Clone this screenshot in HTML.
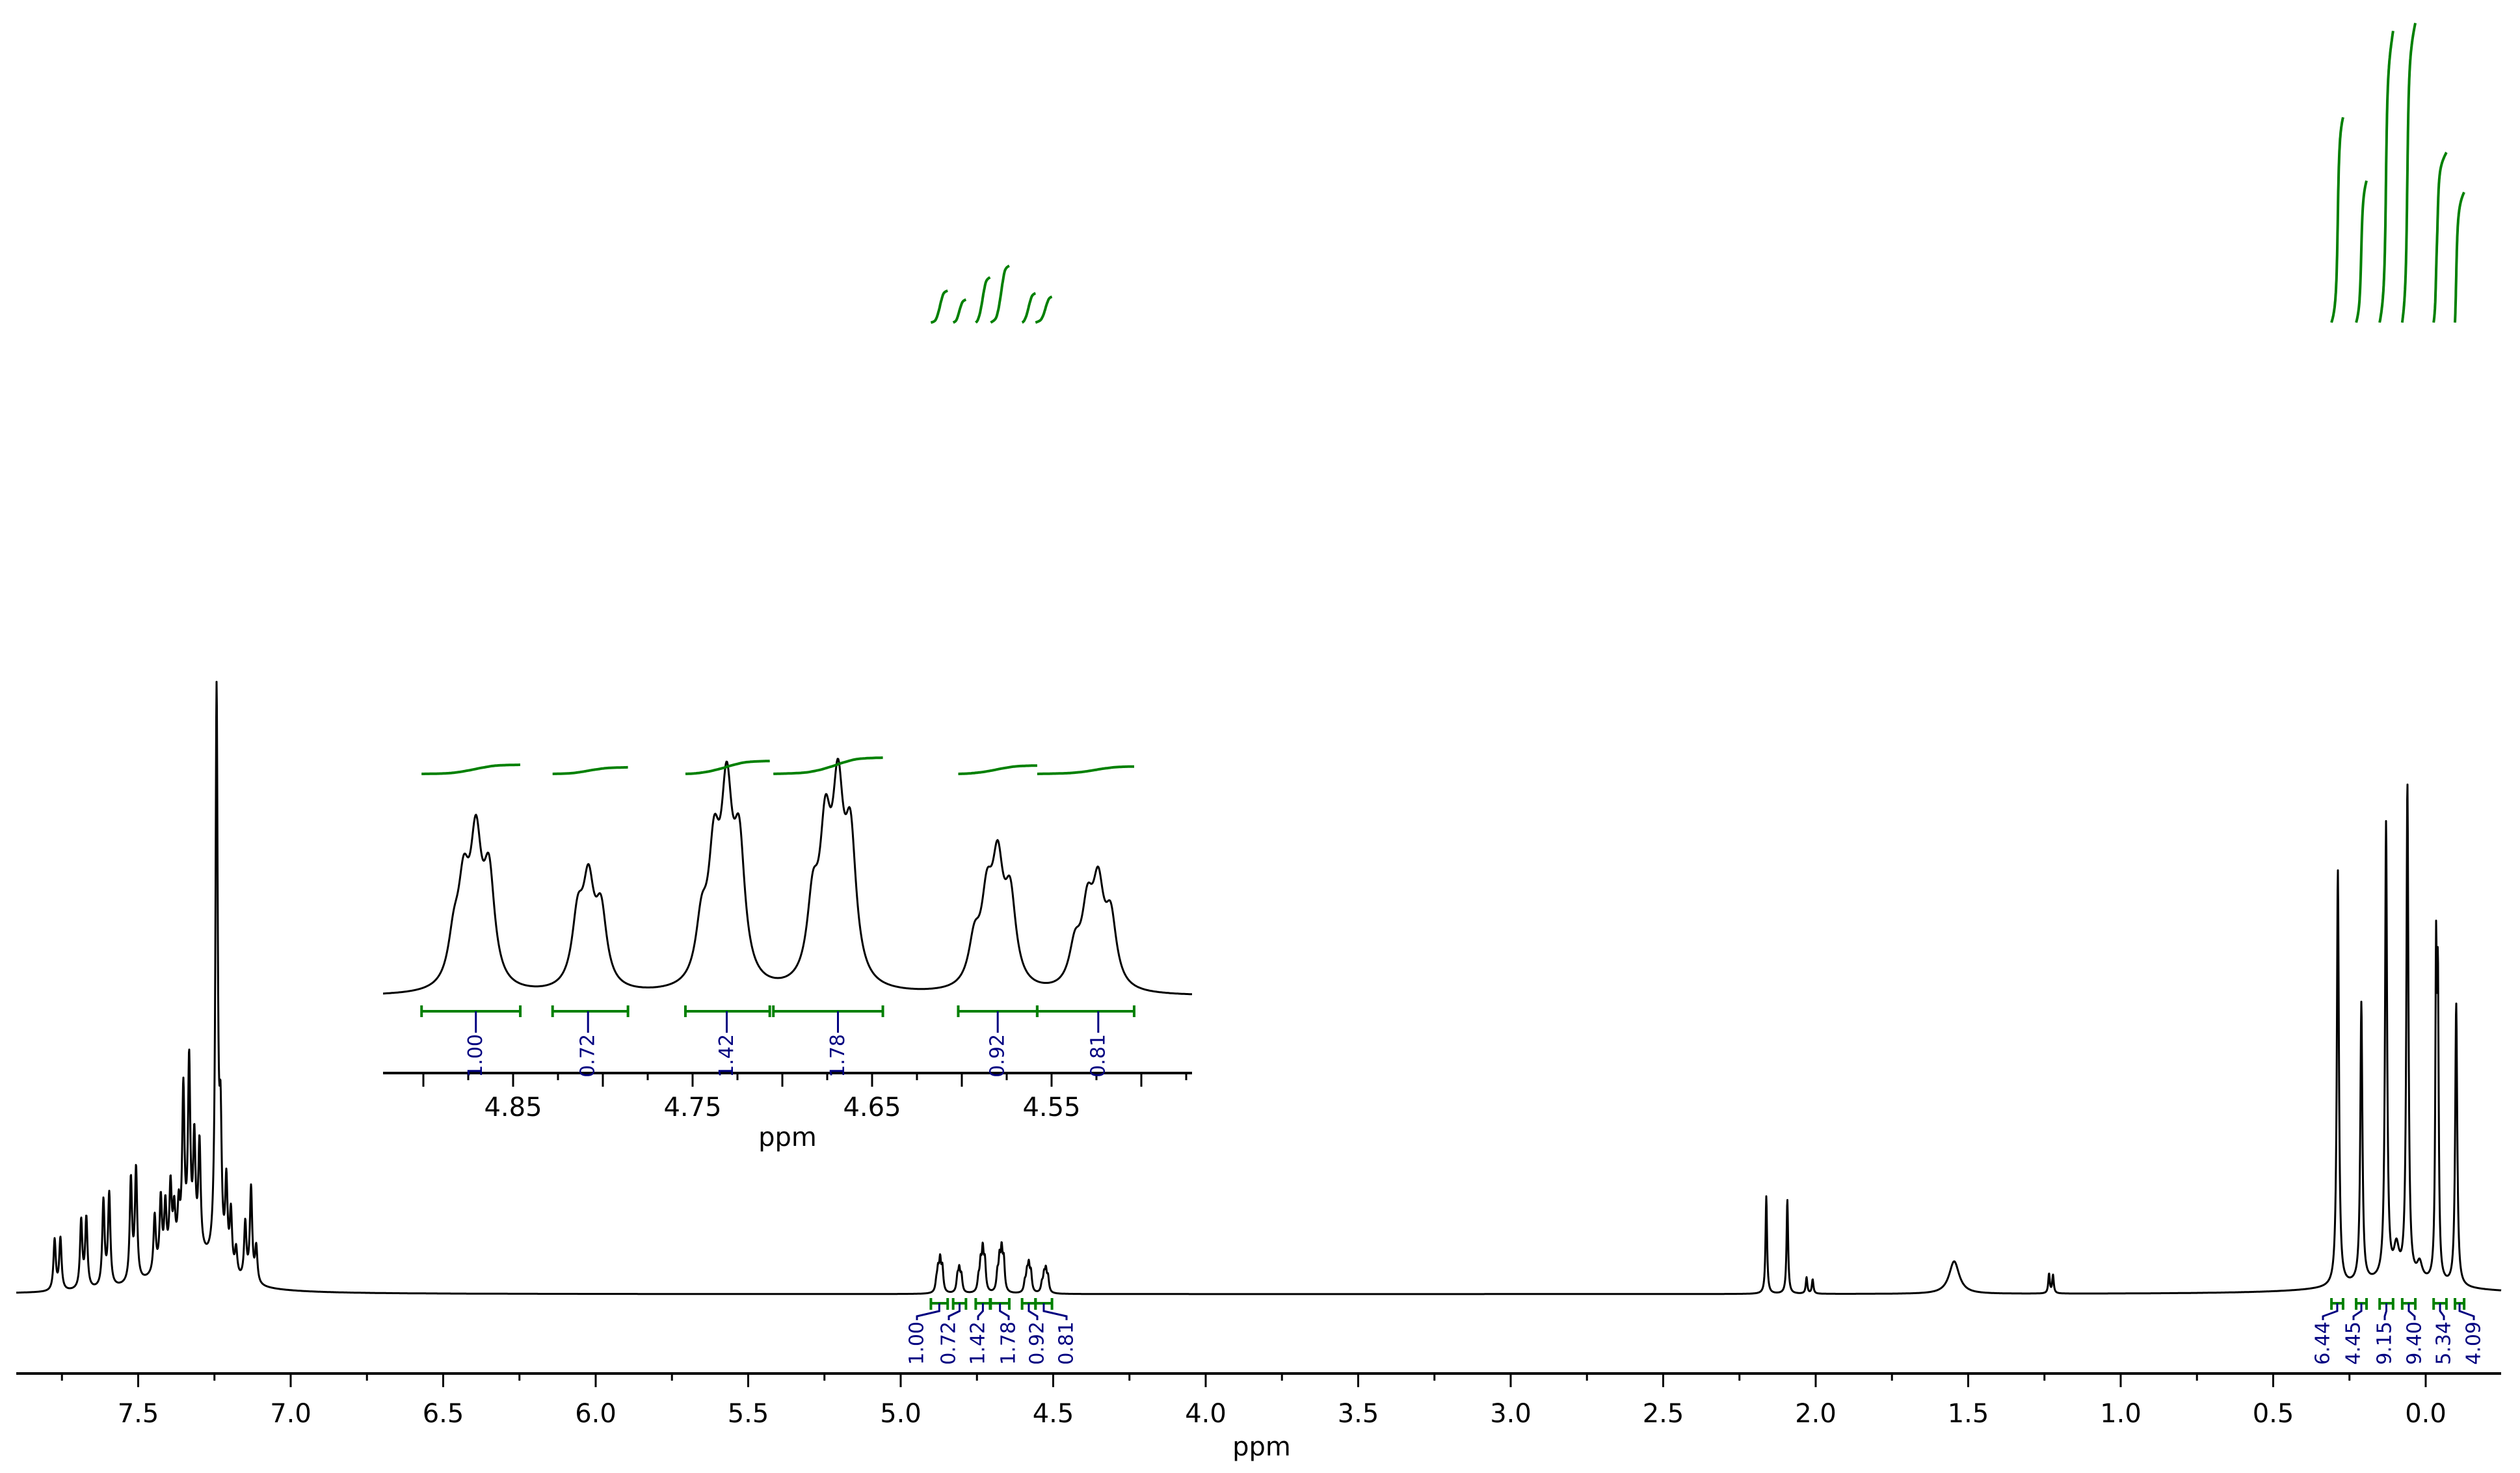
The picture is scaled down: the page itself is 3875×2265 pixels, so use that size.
<!DOCTYPE html>
<html><head><meta charset="utf-8"><style>
html,body{margin:0;padding:0;background:#fff}
svg{display:block}
text{font-family:"DejaVu Sans","Liberation Sans",sans-serif}
</style></head><body>
<svg id="chart" xmlns="http://www.w3.org/2000/svg" width="3875" height="2265" viewBox="0 0 3875 2265">
<rect width="3875" height="2265" fill="#fff"/>
<g id="main"></g>
<g id="inset"></g>
</svg>
<script>
// ---- data ----
const mainTickLabels = ["7.5","7.0","6.5","6.0","5.5","5.0","4.5","4.0","3.5","3.0","2.5","2.0","1.5","1.0","0.5","0.0"];
const mainTickValues = [7.5,7.0,6.5,6.0,5.5,5.0,4.5,4.0,3.5,3.0,2.5,2.0,1.5,1.0,0.5,0.0];
const insetTickLabels = ["4.85","4.75","4.65","4.55"];
const insetTickValues = [4.85,4.75,4.65,4.55];
// aromatic peaks: ppm, height
const aromaticPpm = [7.774,7.755,7.687,7.670,7.614,7.595,7.524,7.507,7.446,7.426,7.411,7.394,7.382,7.367,7.352,7.333,7.316,7.299,7.243,7.230,7.211,7.196,7.179,7.149,7.130,7.113];
const aromaticHeight = [78,80,105,108,132,142,158,172,88,108,92,115,70,68,245,285,165,165,880,190,130,90,40,88,145,55];
// multiplets 4.5-4.9 (inset intensity scale)
const multPpm = [4.883,4.8775,4.8707,4.8634,4.814,4.808,4.801,4.745,4.738,4.731,4.724,4.683,4.676,4.669,4.662,4.593,4.586,4.580,4.573,4.537,4.530,4.524,4.517];
const multHeight = [65,135,205,160,100,145,110,85,180,265,195,115,205,260,205,65,118,168,128,58,108,138,100];
// other peaks in main
const otherPpm = [2.162,2.093,2.030,2.010,1.546,1.235,1.222,0.288,0.211,0.130,0.096,0.060,0.020,-0.034,-0.040,-0.100,0.10,7.33];
const otherHeight = [150,145,25,22,50,30,28,640,430,700,45,760,25,470,420,435,20,60];
const otherWidth = [0.003,0.003,0.003,0.003,0.02,0.003,0.003,0.004,0.004,0.004,0.01,0.004,0.01,0.003,0.003,0.004,0.2,0.1];
// integrals
const midRanges = [[4.901,4.846],[4.828,4.786],[4.754,4.707],[4.705,4.644],[4.602,4.558],[4.558,4.504]];
const midValues = ["1.00","0.72","1.42","1.78","0.92","0.81"];
const midLabelX = [1410,1459,1504,1551,1595,1640];
const rightRanges = [[0.309,0.271],[0.228,0.194],[0.151,0.107],[0.077,0.034],[-0.026,-0.068],[-0.096,-0.126]];
const rightValues = ["6.44","4.45","9.15","9.40","5.34","4.09"];
const rightLabelX = [3572,3619,3667,3713,3758,3804];

// ---- helpers ----
const NS="http://www.w3.org/2000/svg";
function mk(tag,attrs,parent){const e=document.createElementNS(NS,tag);for(const k in attrs)e.setAttribute(k,attrs[k]);parent.appendChild(e);return e;}
const X = p => 3730 - 469*p;
const IX = p => 789 + (4.85-p)*2760;
const BASE = 1990, IBASE = 1532, MAINSCALE = 0.22;
const W = 0.0038;
function lor(p,c,h,w){const d=(p-c)/w;return h/(1+d*d);}
function mainF(p){
  let s=0;
  for(let i=0;i<aromaticPpm.length;i++) s+=lor(p,aromaticPpm[i],aromaticHeight[i],0.0045);
  for(let i=0;i<multPpm.length;i++) s+=lor(p,multPpm[i],multHeight[i]*MAINSCALE,W);
  for(let i=0;i<otherPpm.length;i++) s+=lor(p,otherPpm[i],otherHeight[i],otherWidth[i]);
  return s;
}
function insetF(p){let s=0;for(let i=0;i<multPpm.length;i++) s+=lor(p,multPpm[i],multHeight[i],W);return s;}

const main=document.getElementById('main'), inset=document.getElementById('inset');

// ---- main spectrum ----
let d="";
for(let x=25;x<=3846;x+=0.5){const p=(3730-x)/469;d+=(x===25?"M":"L")+x.toFixed(1)+","+(BASE-mainF(p)).toFixed(1);}
const sp=mk('path',{d:d,fill:'none',stroke:'#000','stroke-width':3,'stroke-linejoin':'round'},main);



// ---- main axis ----
const ax=mk('line',{x1:25,y1:2112,x2:3846,y2:2112,stroke:'#000','stroke-width':4},main);


for(let k=0;k<=31;k++){
  const p=k*0.25; const x=X(p); if(x<25) continue;
  const major=(k%2===0);
  const t=mk('line',{x1:x,y1:2112,x2:x,y2:major?2133:2123,stroke:'#000','stroke-width':3},main);
  
  
}
mainTickValues.forEach((v,i)=>{
  const t=mk('text',{x:X(v),y:2187,'font-size':40,'text-anchor':'middle',fill:'#000'},main);
  t.textContent=mainTickLabels[i];
  
  
});
const xl=mk('text',{x:1940,y:2238,'font-size':40,'text-anchor':'middle',fill:'#000'},main);
xl.textContent="ppm";



// ---- integrals (main) ----
function integralCurve(p0,p1,val,fx,func,yBottom,perUnit,parent,name){
  const n=80; let cum=[0],tot=0;
  for(let i=1;i<=n;i++){const p=p0+(p1-p0)*i/n;tot+=func(p);cum.push(tot);}
  let s="";
  for(let i=0;i<=n;i++){const p=p0+(p1-p0)*i/n;const y=yBottom-(tot>0?cum[i]/tot:i/n)*parseFloat(val)*perUnit;s+=(i?"L":"M")+fx(p).toFixed(1)+","+y.toFixed(1);}
  const e=mk('path',{d:s,fill:'none',stroke:'#008000','stroke-width':4},parent);
  
  
}
function mainIntegrals(ranges,values,labelX){
  ranges.forEach((r,i)=>{
    integralCurve(r[0],r[1],values[i],X,mainF,496,49,main,'integral-curve');
    const x0=X(r[0]),x1=X(r[1]),cx=(x0+x1)/2;
    const g=mk('path',{d:`M${x0},1996V2014M${x1},1996V2014M${x0},2004H${x1}`,stroke:'#008000','stroke-width':4,fill:'none'},main);
    
    
    const c=mk('path',{d:`M${cx},2004V2016L${labelX[i]},2024V2030`,stroke:'#000080','stroke-width':3,fill:'none'},main);
    
    
    const t=mk('text',{transform:`translate(${labelX[i]},2032) rotate(-90)`,'font-size':30,'text-anchor':'end','dominant-baseline':'central',fill:'#000080'},main);
    t.textContent=values[i];
    
    
  });
}
mainIntegrals(midRanges,midValues,midLabelX);
mainIntegrals(rightRanges,rightValues,rightLabelX);

// ---- inset ----
let di="";
for(let x=589;x<=1833;x+=1){const p=4.85-(x-789)/2760;di+=(x===589?"M":"L")+x+","+(IBASE-insetF(p)).toFixed(1);}
const isp=mk('path',{d:di,fill:'none',stroke:'#000','stroke-width':3,'stroke-linejoin':'round'},inset);


const iax=mk('line',{x1:589,y1:1650,x2:1833,y2:1650,stroke:'#000','stroke-width':4},inset);


for(let k=0;k<=18;k++){
  const p=4.90-k*0.025; const x=IX(p); if(x<589||x>1834) continue;
  const major=(k%2===0);
  const t=mk('line',{x1:x,y1:1650,x2:x,y2:major?1671:1661,stroke:'#000','stroke-width':3},inset);
  
  
}
insetTickValues.forEach((v,i)=>{
  const t=mk('text',{x:IX(v),y:1716,'font-size':40,'text-anchor':'middle',fill:'#000'},inset);
  t.textContent=insetTickLabels[i];
  
  
});
const ixl=mk('text',{x:1211,y:1762,'font-size':40,'text-anchor':'middle',fill:'#000'},inset);
ixl.textContent="ppm";


midRanges.forEach((r,i)=>{
  integralCurve(r[0],r[1],midValues[i],IX,insetF,1190,14,inset,'inset-integral-curve');
  const x0=IX(r[0]),x1=IX(r[1]);
  const g=mk('path',{d:`M${x0},1546V1564M${x1},1546V1564M${x0},1555H${x1}`,stroke:'#008000','stroke-width':4,fill:'none'},inset);
  
  
  let best=r[0],bv=-1;for(let k=0;k<=100;k++){const p=r[0]+(r[1]-r[0])*k/100;const v=insetF(p);if(v>bv){bv=v;best=p;}}
  const lx=IX(best);
  const c=mk('line',{x1:lx,y1:1555,x2:lx,y2:1588,stroke:'#000080','stroke-width':3},inset);
  
  
  const t=mk('text',{transform:`translate(${lx},1590) rotate(-90)`,'font-size':30,'text-anchor':'end','dominant-baseline':'central',fill:'#000080'},inset);
  t.textContent=midValues[i];
  
  
});
</script>
</body></html>
